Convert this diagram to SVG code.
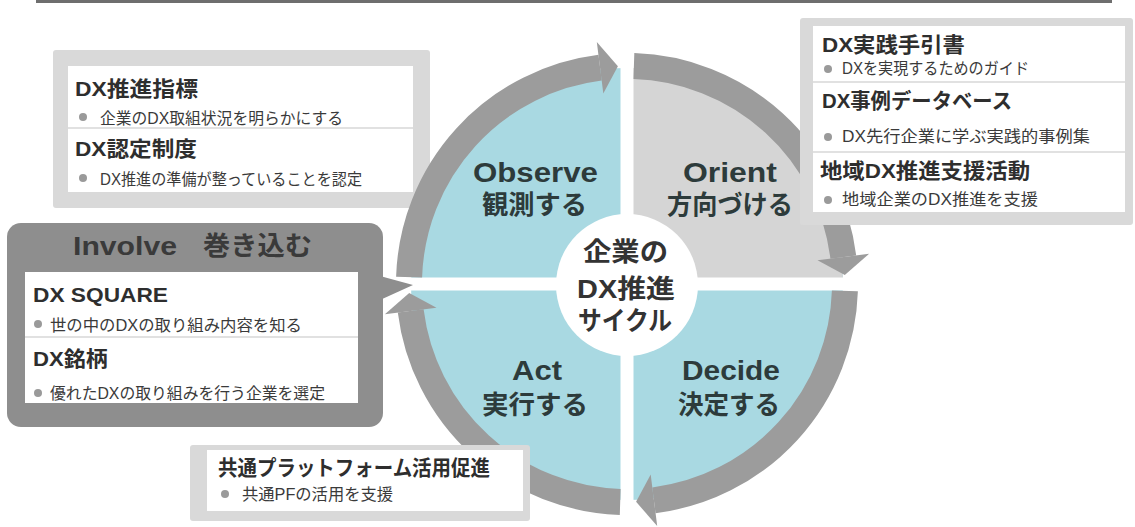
<svg xmlns="http://www.w3.org/2000/svg" width="1135" height="527" viewBox="0 0 1135 527">
<defs>
<style>
text{font-family:"Liberation Sans","Noto Sans CJK JP",sans-serif;fill:#2e2e2e}
.h{font-size:21px;font-weight:700}
.b{font-size:16px;font-weight:400;fill:#3a3a3a}
.q{font-size:27px;font-weight:700;fill:#2d3b3b;text-anchor:middle}
.qj{font-size:26px;font-weight:700;fill:#2d3b3b;text-anchor:middle}
.c{font-size:26px;font-weight:700;fill:#333;text-anchor:middle}
.frame{fill:#d9d9d9}
.panel{fill:#ffffff}
.div{stroke:#c4c4c4;stroke-width:1.2}
.dot{fill:#9a9a9a}
.ring{fill:none;stroke:#9c9c9c;stroke-width:26}
.head{fill:#9c9c9c}
</style>
</defs>
<rect width="1135" height="527" fill="#ffffff"/>
<line x1="36" y1="1.5" x2="1112" y2="1.5" stroke="#6e6e6e" stroke-width="3"/>

<g id="cycle">
<circle cx="627" cy="284" r="216" fill="#a9d9e2"/>
<path d="M627,284 L627,68 A216,216 0 0,1 843,284 Z" fill="#d5d5d5"/>
<rect x="620.5" y="40" width="13" height="487" fill="#ffffff"/>
<rect x="385" y="277.5" width="490" height="13" fill="#ffffff"/>
<circle cx="627" cy="285" r="71" fill="#ffffff"/>
</g>

<g id="observe-box">
<rect class="frame" x="53" y="50" width="377" height="158" rx="3"/>
<rect class="panel" x="68" y="66" width="345" height="126"/>
<line class="div" x1="68" y1="128" x2="413" y2="128"/>
<text class="h" x="75" y="96" textLength="123" lengthAdjust="spacingAndGlyphs">DX推進指標</text>
<circle class="dot" cx="83" cy="117" r="4"/>
<text class="b" x="100" y="124" textLength="243" lengthAdjust="spacingAndGlyphs">企業のDX取組状況を明らかにする</text>
<text class="h" x="75" y="156" textLength="122" lengthAdjust="spacingAndGlyphs">DX認定制度</text>
<circle class="dot" cx="83" cy="178" r="4"/>
<text class="b" x="100" y="185" textLength="262" lengthAdjust="spacingAndGlyphs">DX推進の準備が整っていることを認定</text>
</g>

<g id="connectors">
<path class="ring" d="M409.1,277.2 A218,218 0 0,1 600.1,67.7"/>
<polygon class="head" points="603.3,93.5 596.8,41.9 617.9,66.2"/>
<path class="ring" d="M633.9,66.1 A218,218 0 0,1 843.3,257.1"/>
<polygon class="head" points="817.5,260.3 869.1,253.8 844.8,274.9"/>
<path class="ring" d="M844.9,290.9 A218,218 0 0,1 653.9,500.3"/>
<polygon class="head" points="650.7,474.5 657.2,526.1 636.1,501.8"/>
<path class="ring" d="M620.2,501.9 A218,218 0 0,1 410.7,310.9"/>
<polygon class="head" points="436.5,307.7 384.9,314.2 409.2,293.1"/>
</g>

<g id="labels">
<text class="q" x="535.5" y="182" textLength="125" lengthAdjust="spacingAndGlyphs">Observe</text>
<text class="qj" x="534.5" y="214" textLength="105" lengthAdjust="spacingAndGlyphs">観測する</text>
<text class="q" x="730" y="182" textLength="94" lengthAdjust="spacingAndGlyphs">Orient</text>
<text class="qj" x="730" y="214" textLength="126" lengthAdjust="spacingAndGlyphs">方向づける</text>
<text class="q" x="537" y="380" textLength="50" lengthAdjust="spacingAndGlyphs">Act</text>
<text class="qj" x="535" y="414" textLength="106" lengthAdjust="spacingAndGlyphs">実行する</text>
<text class="q" x="731" y="380" textLength="98" lengthAdjust="spacingAndGlyphs">Decide</text>
<text class="qj" x="729" y="414" textLength="102" lengthAdjust="spacingAndGlyphs">決定する</text>
</g>

<g id="center">
<text class="c" x="625.5" y="261" textLength="85" lengthAdjust="spacingAndGlyphs">企業の</text>
<text class="c" x="626" y="298" textLength="98" lengthAdjust="spacingAndGlyphs">DX推進</text>
<text class="c" x="625" y="330" textLength="94" lengthAdjust="spacingAndGlyphs">サイクル</text>
</g>

<g id="orient-box">
<rect class="frame" x="800" y="18" width="333" height="207" rx="3"/>
<rect class="panel" x="813" y="26" width="312" height="186"/>
<line class="div" x1="813" y1="82" x2="1125" y2="82"/>
<line class="div" x1="813" y1="152" x2="1125" y2="152"/>
<text class="h" x="822" y="52" textLength="143" lengthAdjust="spacingAndGlyphs">DX実践手引書</text>
<circle class="dot" cx="828" cy="69" r="4"/>
<text class="b" x="842" y="74" textLength="187" lengthAdjust="spacingAndGlyphs">DXを実現するためのガイド</text>
<text class="h" x="822" y="108" textLength="190" lengthAdjust="spacingAndGlyphs">DX事例データベース</text>
<circle class="dot" cx="828" cy="137" r="4"/>
<text class="b" x="842" y="142" textLength="248" lengthAdjust="spacingAndGlyphs">DX先行企業に学ぶ実践的事例集</text>
<text class="h" x="820" y="178" textLength="210" lengthAdjust="spacingAndGlyphs">地域DX推進支援活動</text>
<circle class="dot" cx="828" cy="200" r="4"/>
<text class="b" x="842" y="205" textLength="196" lengthAdjust="spacingAndGlyphs">地域企業のDX推進を支援</text>
</g>

<g id="involve-box">
<rect x="7" y="223" width="376" height="204" rx="14" fill="#8e8e8e"/>
<polygon points="380,276 413,285 380,300" fill="#8e8e8e"/>
<text x="73" y="255" style="font-size:26px;font-weight:700;fill:#3a3a3a"><tspan textLength="104" lengthAdjust="spacingAndGlyphs">Involve</tspan><tspan x="203" textLength="109" lengthAdjust="spacingAndGlyphs">巻き込む</tspan></text>
<rect class="panel" x="25" y="272" width="333" height="131"/>
<line class="div" x1="25" y1="337" x2="358" y2="337"/>
<text class="h" x="33" y="302" textLength="135" lengthAdjust="spacingAndGlyphs">DX SQUARE</text>
<circle class="dot" cx="38" cy="324" r="4"/>
<text class="b" x="50" y="331" textLength="252" lengthAdjust="spacingAndGlyphs">世の中のDXの取り組み内容を知る</text>
<text class="h" x="33" y="366" textLength="75" lengthAdjust="spacingAndGlyphs">DX銘柄</text>
<circle class="dot" cx="38" cy="393" r="4"/>
<text class="b" x="50" y="399" textLength="275" lengthAdjust="spacingAndGlyphs">優れたDXの取り組みを行う企業を選定</text>
</g>

<g id="platform-box">
<rect class="frame" x="190" y="445" width="340" height="76" rx="3"/>
<rect class="panel" x="207" y="450" width="316" height="61"/>
<text class="h" x="218" y="475" textLength="272" lengthAdjust="spacingAndGlyphs">共通プラットフォーム活用促進</text>
<circle class="dot" cx="225" cy="494" r="4"/>
<text class="b" x="242" y="500" textLength="151" lengthAdjust="spacingAndGlyphs">共通PFの活用を支援</text>
</g>
</svg>
